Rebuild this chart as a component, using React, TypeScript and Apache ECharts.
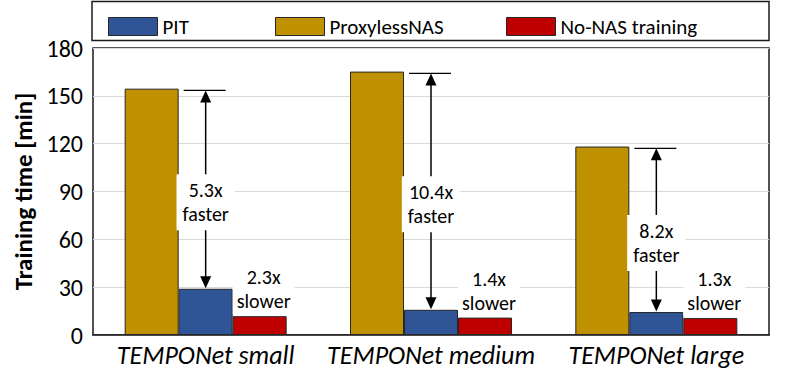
import React, { useEffect, useRef } from "react";
import * as echarts from "echarts";

const categories = ["TEMPONet small", "TEMPONet medium", "TEMPONet large"];
const proxylessNAS = [154.5, 165.2, 118.2];
const pit = [29, 15.8, 14.4];
const noNAS = [11.8, 10.9, 10.6];
const fasterLabels = ["5.3x", "10.4x", "8.2x"];
const slowerLabels = ["2.3x", "1.4x", "1.3x"];
const yTicks = { min: 0, max: 180, interval: 30 };

const FONT = "Carlito, Lato, sans-serif";
const BAR_W = 54;
const BLUE = "#2F5597";
const GOLD = "#BF9000";
const RED = "#C00000";

export default function App() {
  const ref = useRef<HTMLDivElement>(null);
  useEffect(() => {
    if (!ref.current) return;
    const chart = echarts.init(ref.current, null, { renderer: "svg" });
    const barBorder = { borderColor: "#262626", borderWidth: 1 };
    const legendBase = {
      top: 11,
      itemWidth: 49,
      itemHeight: 18,
      icon: "rect",
      itemStyle: { borderColor: "#262626", borderWidth: 1 },
      textStyle: { fontFamily: FONT, fontSize: 21, color: "#000" },
      selectedMode: false,
    };
    chart.setOption({
      animation: false,
      textStyle: { fontFamily: FONT },
      legend: [
        { ...legendBase, left: 103, data: ["PIT"] },
        { ...legendBase, left: 270, data: ["ProxylessNAS"] },
        { ...legendBase, left: 501, data: ["No-NAS training"] },
      ],
      graphic: [
        {
          type: "rect",
          shape: { x: 92, y: 1.5, width: 677, height: 39 },
          style: { fill: "none", stroke: "#1a1a1a", lineWidth: 1.5 },
          silent: true,
        },
      ],
      grid: {
        left: 93,
        right: 20,
        top: 48,
        bottom: 52,
        show: true,
        borderColor: "#1a1a1a",
        borderWidth: 1.5,
        backgroundColor: "#fff",
      },
      xAxis: {
        type: "category",
        data: categories,
        axisTick: { show: false },
        axisLine: { lineStyle: { color: "#1a1a1a", width: 1.5 } },
        axisLabel: {
          interval: 0,
          fontFamily: FONT,
          fontSize: 26,
          fontStyle: "italic",
          color: "#000",
          margin: 7,
        },
      },
      yAxis: {
        type: "value",
        min: yTicks.min,
        max: yTicks.max,
        interval: yTicks.interval,
        name: "Training time [min]",
        nameLocation: "middle",
        nameGap: 51,
        nameTextStyle: { fontFamily: FONT, fontSize: 25, fontWeight: "bold", color: "#000" },
        axisLine: { show: false },
        axisTick: { show: false },
        axisLabel: { fontFamily: FONT, fontSize: 24, color: "#000", margin: 10 },
        splitLine: { lineStyle: { color: "#d9d9d9", width: 1.2 } },
      },
      series: [
        {
          name: "ProxylessNAS",
          type: "bar",
          data: proxylessNAS,
          barWidth: BAR_W,
          barGap: "0%",
          itemStyle: { color: GOLD, ...barBorder },
        },
        {
          name: "PIT",
          type: "bar",
          data: pit,
          barWidth: BAR_W,
          barGap: "0%",
          itemStyle: { color: BLUE, ...barBorder },
        },
        {
          name: "No-NAS training",
          type: "bar",
          data: noNAS,
          barWidth: BAR_W,
          barGap: "0%",
          itemStyle: { color: RED, ...barBorder },
        },
        {
          name: "annotations",
          type: "custom",
          silent: true,
          z: 10,
          clip: false,
          data: categories.map((_, i) => [i, proxylessNAS[i], pit[i], noNAS[i]]),
          encode: { x: 0, y: 1 },
          renderItem: (params: any, api: any) => {
            const i = params.dataIndex;
            const top = api.coord([api.value(0), api.value(1)]);
            const bot = api.coord([api.value(0), api.value(2)]);
            const red = api.coord([api.value(0), api.value(3)]);
            const x = top[0];
            const capY = top[1] + 1.8;
            const botY = bot[1] - 0.5;
            const ah = 12;
            const aw = 5.5;
            const mid = (capY + botY) / 2 + 13;
            const stroke = { stroke: "#000", lineWidth: 1.5 };
            return {
              type: "group",
              children: [
                { type: "line", shape: { x1: x - 22, y1: capY, x2: x + 20, y2: capY }, style: { stroke: "#000", lineWidth: 1.3 } },
                { type: "line", shape: { x1: x, y1: capY + ah - 2, x2: x, y2: botY - ah + 2 }, style: stroke },
                { type: "polygon", shape: { points: [[x, capY], [x - aw, capY + ah], [x + aw, capY + ah]] }, style: { fill: "#000" } },
                { type: "polygon", shape: { points: [[x, botY], [x - aw, botY - ah], [x + aw, botY - ah]] }, style: { fill: "#000" } },
                {
                  type: "text",
                  x: x,
                  y: mid,
                  style: {
                    text: fasterLabels[i] + "\nfaster",
                    fontFamily: FONT,
                    fontSize: 20,
                    lineHeight: 24,
                    fill: "#000",
                    align: "center",
                    verticalAlign: "middle",
                    backgroundColor: "#fff",
                    padding: [4, 6],
                  },
                },
                {
                  type: "text",
                  x: x + BAR_W + 4,
                  y: red[1] - 2,
                  style: {
                    text: slowerLabels[i] + "\nslower",
                    fontFamily: FONT,
                    fontSize: 20,
                    lineHeight: 24,
                    fill: "#000",
                    align: "center",
                    verticalAlign: "bottom",
                    backgroundColor: "#fff",
                    padding: [1, 4],
                  },
                },
              ],
            };
          },
        },
      ],
    });
    return () => chart.dispose();
  }, []);
  return (
    <div
      ref={ref}
      style={{ position: "absolute", left: 0, top: 0, width: 789, height: 387, background: "#fff" }}
    />
  );
}
